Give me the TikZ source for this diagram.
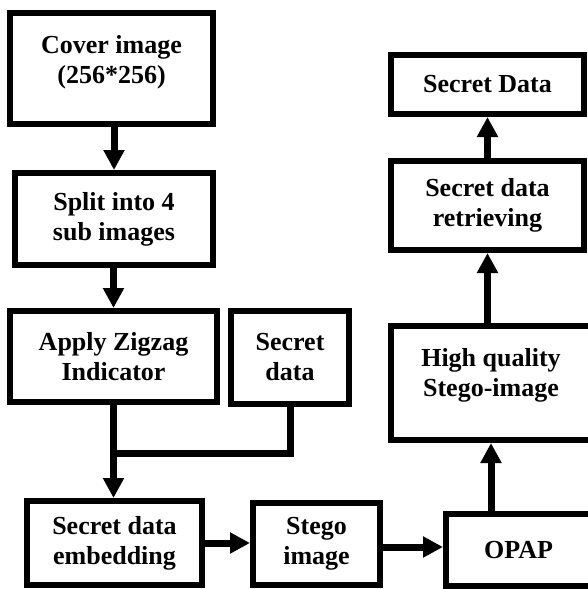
\documentclass[tikz,border=0pt]{standalone}
\usepackage{fontspec}
\setmainfont{Liberation Serif}
\usepackage{tikz}
\usetikzlibrary{arrows.meta}
\tikzstyle{blocks} = [rectangle, draw=black, line width=6pt, align=center, inner sep=0pt,
font=\fontsize{26}{30}\selectfont\bfseries]
\tikzstyle{arrow} = [line width=7pt, -{Triangle[width=20pt,length=20pt]}]
\tikzstyle{link} = [line width=7pt]

\begin{document}
\begin{tikzpicture}[x=1pt, y=-1pt]
            \useasboundingbox (0,0) rectangle (587,589);

            % Embedding side
            \node(cover) [blocks, minimum width=203pt, minimum height=111pt, text depth=19pt] at (111.5,68.5) {Cover image\\(256*256)};
            \node(split) [blocks, minimum width=198pt, minimum height=92pt] at (114,219) {Split into 4\\sub images};
            \node(apply) [blocks, minimum width=207pt, minimum height=91pt] at (113.5,356.5) {Apply Zigzag\\Indicator};
            \node(secret) [blocks, minimum width=118pt, minimum height=93pt] at (290,357.5) {Secret\\data};
            \node(embed) [blocks, minimum width=175pt, minimum height=84pt] at (114.5,543) {Secret data\\embedding};
            \node(stego) [blocks, minimum width=127pt, minimum height=82pt] at (316.5,544) {Stego\\image};

            % Extraction side
            \node(opap) [blocks, minimum width=145pt, minimum height=72pt] at (518.5,550) {OPAP};
            \node(hq) [blocks, minimum width=200pt, minimum height=114pt, text depth=22pt] at (491,383) {High quality\\Stego-image};
            \node(retrieve) [blocks, minimum width=193pt, minimum height=89pt] at (487.5,205.5) {Secret data\\retrieving};
            \node(sdata) [blocks, minimum width=193pt, minimum height=59pt] at (487.5,84.5) {Secret Data};

            % Draw Lines
            \coordinate (join) at (113.5,453);
            \draw[arrow] (split.north |- cover.south) -- (split.north);
            \draw[arrow] (apply.north |- split.south) -- (apply.north);
            \draw[link] (apply.south) -- (join) -| (secret.south);
            \draw[arrow] (join) -- (join |- embed.north);
            \draw[arrow] (embed.east) -- (embed.east -| stego.west);
            \draw[arrow] (stego.east |- 0,547) -- (opap.west |- 0,547);
            \draw[arrow] (hq.south |- opap.north) -- (hq.south);
            \draw[arrow] (retrieve.south |- hq.north) -- (retrieve.south);
            \draw[arrow] (retrieve.north) -- (sdata.south);
\end{tikzpicture}
\end{document}
